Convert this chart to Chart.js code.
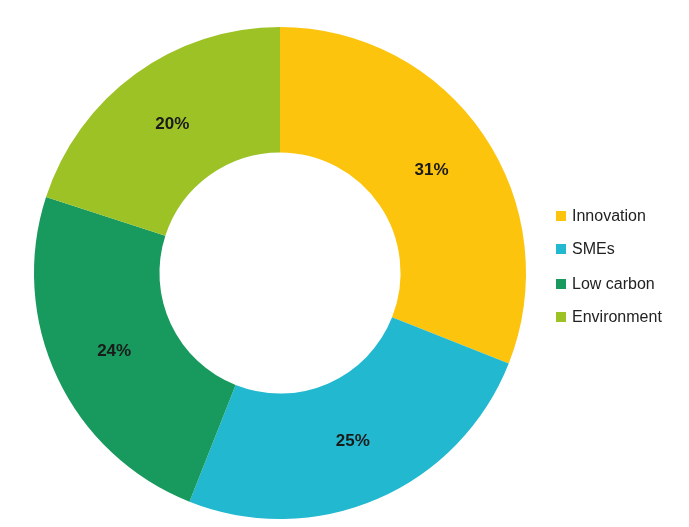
<!DOCTYPE html>
<html><head><meta charset="utf-8">
<script src="https://cdn.jsdelivr.net/npm/chart.js@4"></script>
<style>html,body{margin:0;padding:0;background:#fff}#w{width:689px;height:527px}</style>
</head><body><div id="w"><canvas id="c"></canvas></div>
<script>
const categories = ["Innovation","SMEs","Low carbon","Environment"];
const values = [31,25,24,20];
const colors = ["#FDC40D","#22B8D0","#189A5E","#9CC226"];

const labelPlugin = {
  id:'labels',
  afterDatasetsDraw(chart){
    const ctx = chart.ctx;
    const meta = chart.getDatasetMeta(0);
    ctx.save();
    ctx.font = 'bold 17px Arial, "Liberation Sans", sans-serif';
    ctx.fillStyle = '#1a1a1a';
    ctx.textAlign='center'; ctx.textBaseline='middle';
    meta.data.forEach((arc,i)=>{
      const p = arc.getCenterPoint();
      ctx.fillText(values[i]+'%', p.x, p.y);
    });
    // legend
    ctx.font = '16px Arial, "Liberation Sans", sans-serif';
    ctx.textAlign='left';
    const ys=[216,249,284,317];
    categories.forEach((c,i)=>{
      ctx.fillStyle = colors[i];
      ctx.fillRect(556, ys[i]-5, 10, 10);
      ctx.fillStyle = '#222';
      ctx.fillText(c, 572, ys[i]+1);
    });
    ctx.restore();
  }
};

new Chart(document.getElementById('c'),{
  type:'doughnut',
  data:{labels:categories,datasets:[{data:values,backgroundColor:colors,borderWidth:0}]},
  options:{
    responsive:true,maintainAspectRatio:false,animation:false,
    cutout:'49%',
    layout:{padding:{top:27,bottom:8,left:0,right:129}},
    plugins:{legend:{display:false},tooltip:{enabled:false}}
  },
  plugins:[labelPlugin]
});
</script></body></html>
